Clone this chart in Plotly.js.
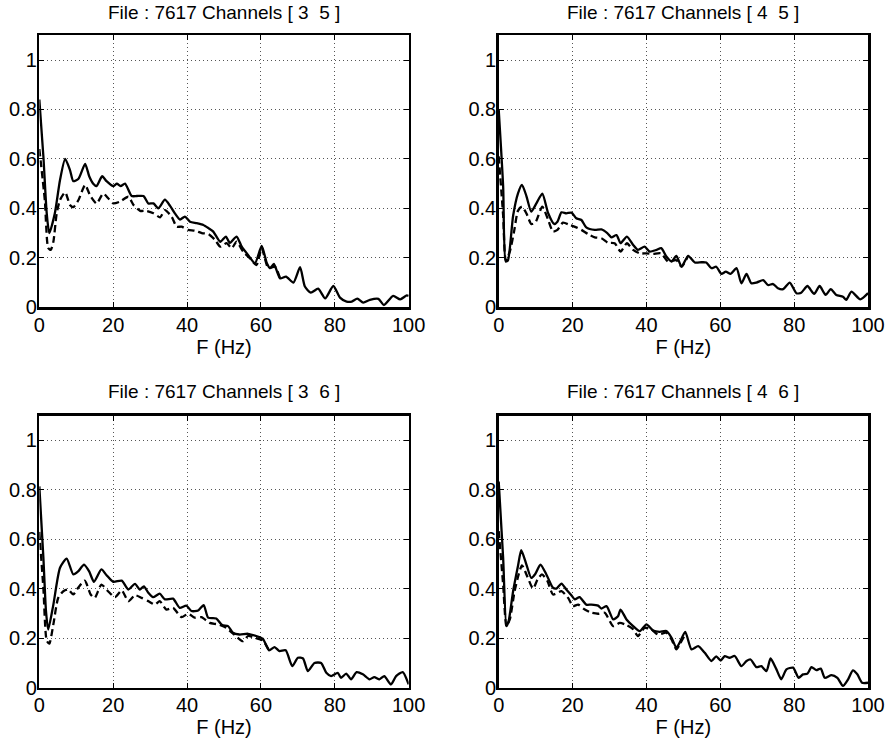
<!DOCTYPE html>
<html><head><meta charset="utf-8">
<script src="https://cdn.plot.ly/plotly-3.0.1.min.js"></script>
<style>html,body{margin:0;padding:0;background:#fff}#chart{width:896px;height:742px}</style>
</head><body><div id="chart"></div>
<script>
// Panel [3 5]
const f35s=[0,1.1,2,2.7,4.2,5.6,7,8.3,9.2,10.6,12.4,13.5,14.6,15.5,17,18.2,20,21,22,23.2,25,26.4,28.2,29.5,30.9,32.2,34,35.4,36.7,38.1,39.4,40.8,42.6,44.4,45.8,47.1,49,50.5,51.6,53.4,54.8,56.6,58.4,60.2,61.6,62.5,63.5,65.2,66.8,68.8,70.6,71.9,73.5,75.5,77.4,79.6,81.4,83.2,84.6,86.1,87.7,89.5,91.8,93.3,95.8,97.7,99.5,100];
const c35s=[0.84,0.61,0.38,0.30,0.38,0.515,0.60,0.555,0.51,0.52,0.58,0.53,0.50,0.49,0.53,0.51,0.49,0.50,0.49,0.50,0.45,0.45,0.45,0.42,0.42,0.40,0.435,0.41,0.38,0.355,0.367,0.346,0.34,0.333,0.32,0.306,0.265,0.286,0.26,0.286,0.245,0.21,0.178,0.248,0.178,0.158,0.175,0.117,0.124,0.10,0.162,0.084,0.059,0.075,0.036,0.086,0.039,0.023,0.023,0.035,0.019,0.03,0.034,0.009,0.046,0.032,0.048,0.046];
const f35d=[0,1.5,2.4,3.1,3.8,4.7,5.6,7,8.3,9.2,10.6,12.4,13.7,15.5,17.3,18.7,20,21.8,24.1,25.5,27.3,29,30.9,32.7,34,35.8,37.2,38.5,40.3,42.1,44,45.8,47.6,49,50.7,52.1,53.4,55.2,57,58.8,60.2,62,63.8,65.2];
const c35d=[0.64,0.43,0.24,0.232,0.265,0.38,0.434,0.465,0.414,0.405,0.434,0.495,0.454,0.42,0.46,0.44,0.42,0.427,0.447,0.414,0.39,0.39,0.38,0.364,0.393,0.367,0.326,0.326,0.313,0.31,0.30,0.296,0.272,0.245,0.259,0.239,0.265,0.225,0.198,0.171,0.238,0.158,0.164,0.117];
// Panel [4 5]
const f45s=[0,1.2,1.9,2.5,3.9,5.2,6.3,7.5,8.8,10.2,11.8,13.4,15,15.9,17,18.3,19.7,21,22.4,23.7,26,27.8,29.4,30.5,31.9,33,34.7,36.4,37.7,39.5,40.9,42.7,44,45.4,46.8,48.1,49.5,51.3,53.1,54.9,56.2,57.6,58.9,60.3,61.5,62.8,64.4,65.7,67.1,68.4,69.8,71.6,72.9,74.3,75.6,77,78.8,80.6,81.9,83.6,85.4,86.9,88.5,89.9,91.4,93.2,94.1,95.5,97.9,100];
const c45s=[0.80,0.49,0.185,0.19,0.37,0.46,0.495,0.45,0.387,0.42,0.46,0.38,0.337,0.346,0.384,0.38,0.383,0.36,0.353,0.323,0.313,0.315,0.30,0.283,0.292,0.259,0.286,0.252,0.232,0.245,0.225,0.232,0.239,0.205,0.185,0.208,0.164,0.208,0.181,0.182,0.181,0.158,0.164,0.135,0.144,0.135,0.158,0.097,0.135,0.097,0.10,0.11,0.09,0.094,0.077,0.073,0.10,0.057,0.059,0.086,0.054,0.086,0.05,0.073,0.05,0.043,0.03,0.063,0.032,0.057];
const f45d=[0,1.2,1.9,3,4.2,5.2,6.3,7.5,8.8,9.9,11.8,13.4,14.7,15.9,17.4,19.2,21,22.4,24.2,26,27.8,29.6,31.4,33,34.7,36.4,38.2,40,41.8,44,45.8,48.1,49.5,51.3];
const c45d=[0.61,0.37,0.19,0.225,0.31,0.39,0.407,0.38,0.337,0.342,0.407,0.353,0.306,0.313,0.342,0.333,0.323,0.313,0.296,0.283,0.279,0.261,0.259,0.225,0.259,0.232,0.218,0.218,0.216,0.218,0.185,0.19,0.164,0.208];
// Panel [3 6]
const f36s=[0,1.1,1.8,2.4,3.8,5.6,7.4,9.2,10.5,12.1,13.5,14.8,16.8,18.2,20,22.3,24.1,25.9,27.2,28.3,29.5,30.8,32.6,34,36.2,38,39.8,41.2,43,44.5,45.7,47.9,49.5,51.1,52.4,54.2,56.5,58.7,60.5,62.2,63.7,65,66.7,68.5,70,71.4,72.7,74.5,76.3,77.7,79,80.8,81.7,83.1,84.4,85.9,87.6,89.4,90.7,92.1,93.4,95.2,96.6,98.4,100];
const c36s=[0.814,0.525,0.31,0.235,0.336,0.485,0.522,0.458,0.47,0.498,0.47,0.428,0.478,0.455,0.428,0.433,0.397,0.42,0.397,0.41,0.384,0.366,0.38,0.357,0.36,0.323,0.332,0.31,0.312,0.334,0.283,0.28,0.253,0.249,0.222,0.215,0.218,0.209,0.198,0.151,0.164,0.148,0.151,0.087,0.121,0.118,0.067,0.10,0.10,0.06,0.047,0.06,0.04,0.057,0.034,0.063,0.054,0.034,0.043,0.034,0.047,0.013,0.047,0.063,0.013];
const f36d=[0,1.1,2,2.7,3.8,5.1,6.5,7.8,9.2,10.5,12.3,13.9,15,16.8,18.6,20.5,22.3,24.1,25.9,27.7,29.5,31.3,32.6,34.4,36.2,38.5,40.3,42.1,43.9,46.1,48.4,50.6,52.9,55.1,56.5,58.3,60.5,62.2];
const c36d=[0.63,0.40,0.19,0.178,0.256,0.363,0.39,0.397,0.377,0.404,0.433,0.377,0.363,0.417,0.39,0.366,0.393,0.35,0.374,0.363,0.35,0.336,0.35,0.316,0.323,0.285,0.299,0.283,0.285,0.262,0.256,0.242,0.213,0.188,0.209,0.202,0.191,0.151];
// Panel [4 6]
const f46s=[0,1.2,2.1,2.7,3.9,5.2,6.1,7.5,8.8,9.9,11.3,12.9,14.7,15.6,17,18.3,19.5,20.6,21.9,23.7,25.1,26.9,27.8,29.2,31,32.3,33,34.6,36.4,38.2,40,41.8,43.6,45.4,46.8,48.1,49,50.5,52.2,54,55.8,57.6,58.9,60.1,61.2,62.5,63.9,65.7,67.1,68.2,69.8,71.1,72.5,73.6,75.2,76.5,77.9,79.7,81.2,82.4,83.6,84.7,86,87.2,88.3,90.1,91.7,93.2,94.6,95.9,97.1,98.4,100];
const c46s=[0.834,0.525,0.249,0.27,0.39,0.491,0.556,0.498,0.444,0.46,0.498,0.458,0.404,0.401,0.421,0.397,0.377,0.357,0.366,0.336,0.336,0.332,0.32,0.33,0.276,0.289,0.316,0.276,0.249,0.229,0.256,0.231,0.226,0.229,0.202,0.161,0.182,0.226,0.155,0.168,0.141,0.108,0.127,0.11,0.128,0.121,0.128,0.087,0.108,0.114,0.083,0.087,0.067,0.118,0.074,0.034,0.074,0.081,0.04,0.054,0.057,0.083,0.071,0.077,0.04,0.051,0.04,0.007,0.034,0.07,0.054,0.02,0.02];
const f46d=[0,1.2,2.1,3,4.3,5.4,6.3,7.7,9.3,10.5,11.7,13.2,14.7,17,18.8,20.1,21.5,23.3,25.1,26.9,28.7,31,32.8,34.6,36.4,37.7,39.5,41.3,43.1,45.4,46.8,48.1,49,50.5];
const c46d=[0.633,0.417,0.249,0.276,0.39,0.458,0.495,0.451,0.401,0.437,0.458,0.431,0.377,0.39,0.363,0.33,0.336,0.316,0.303,0.299,0.303,0.249,0.262,0.253,0.236,0.209,0.242,0.236,0.215,0.222,0.195,0.155,0.175,0.215];

const panelTitles=["File : 7617 Channels [ 3\u00a0 5 ]","File : 7617 Channels [ 4\u00a0 5 ]","File : 7617 Channels [ 3\u00a0 6 ]","File : 7617 Channels [ 4\u00a0 6 ]"];
const xTicks=[0,20,40,60,80,100];
const yTicks=[0,0.2,0.4,0.6,0.8,1];
const yTickText=["0","0.2","0.4","0.6","0.8","1"];
const xLabel="F (Hz)";

const panels=[[f35s,c35s,f35d,c35d],[f45s,c45s,f45d,c45d],[f36s,c36s,f36d,c36d],[f46s,c46s,f46d,c46d]];
const font="Liberation Sans, Arial, Helvetica, sans-serif";
const traces=[];
panels.forEach((p,i)=>{
  const xa='x'+(i?i+1:''), ya='y'+(i?i+1:'');
  traces.push({x:p[2],y:p[3],xaxis:xa,yaxis:ya,mode:'lines',line:{color:'#000',width:2.3,dash:'7px,4px',shape:'spline',smoothing:0.6},hoverinfo:'skip'});
  traces.push({x:p[0],y:p[1],xaxis:xa,yaxis:ya,mode:'lines',line:{color:'#000',width:2.3,shape:'spline',smoothing:0.6},hoverinfo:'skip'});
});
const xd=[[0.0439,0.4561],[0.5566,0.9688]];
const yd=[[0.5859,0.9524],[0.0732,0.4398]];
const layout={width:896,height:742,margin:{l:0,r:0,t:0,b:0},showlegend:false,
  paper_bgcolor:'#fff',plot_bgcolor:'#fff',font:{family:font,size:20,color:'#000'},annotations:[]};
for(let i=0;i<4;i++){
  const c=i%2, r=Math.floor(i/2), s=i?i+1:'';
  layout['xaxis'+s]={domain:xd[c],range:[0,100],anchor:'y'+s,tickvals:xTicks,ticks:'inside',ticklen:5,tickwidth:1,tickcolor:'#000',
    showline:true,linewidth:2.5,linecolor:'#000',mirror:'ticks',showgrid:true,gridcolor:'#555',griddash:'1px,3px',gridwidth:1,zeroline:false,
    tickfont:{size:20},ticklabelstandoff:-2,title:{text:xLabel,font:{size:20},standoff:0}};
  layout['yaxis'+s]={domain:yd[r],range:[0,1.1],anchor:'x'+s,tickvals:yTicks,ticktext:yTickText,ticks:'inside',ticklen:5,tickwidth:1,tickcolor:'#000',
    showline:true,linewidth:2.5,linecolor:'#000',mirror:'ticks',showgrid:true,gridcolor:'#555',griddash:'1px,3px',gridwidth:1,zeroline:false,
    tickfont:{size:20},ticklabelstandoff:-4};
  layout.annotations.push({text:panelTitles[i],xref:'paper',yref:'paper',x:(xd[c][0]+xd[c][1])/2,y:r?0.4721:0.983,
    xanchor:'center',yanchor:'middle',showarrow:false,font:{size:19}});
}
Plotly.newPlot('chart',traces,layout,{displayModeBar:false,staticPlot:true});
</script></body></html>
